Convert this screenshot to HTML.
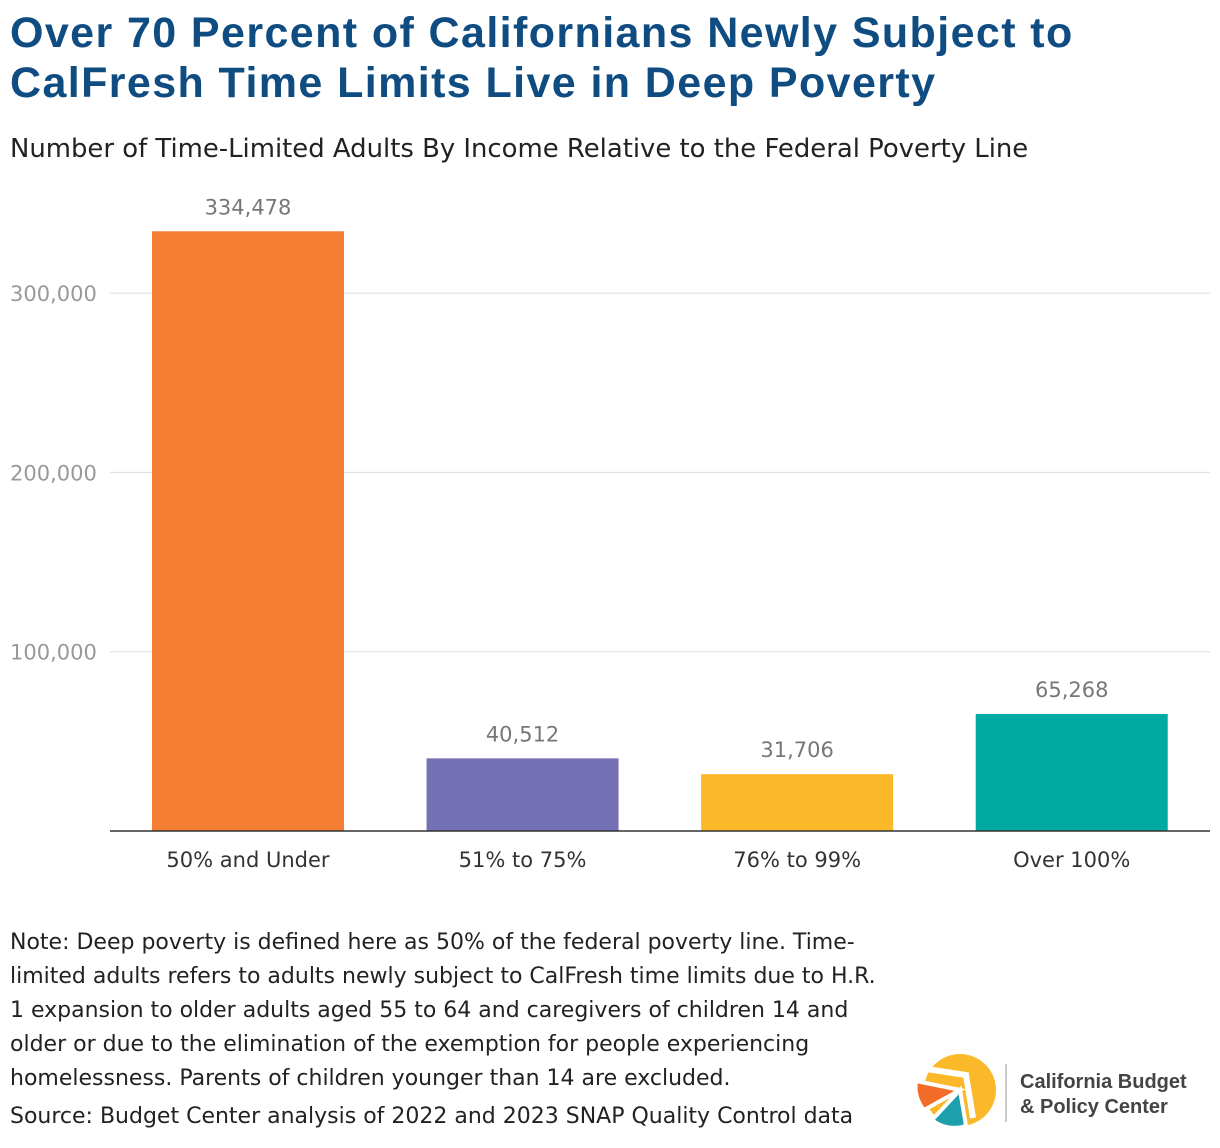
<!DOCTYPE html>
<html><head><meta charset="utf-8">
<style>
body{margin:0;width:1220px;height:1148px;background:#fff;font-family:"DejaVu Sans","Liberation Sans",sans-serif;overflow:hidden;position:relative}
.t{position:absolute;left:10px;top:8px;font-family:"Liberation Sans",sans-serif;font-weight:bold;font-size:43px;letter-spacing:1.4px;line-height:50px;color:#0f4c81;margin:0}
.s{position:absolute;left:10px;top:134px;font-size:25.9px;color:#222}
.n{position:absolute;left:10px;top:926px;width:878px;font-size:22px;line-height:34px;color:#222}
.src{position:absolute;left:10px;top:1104px;font-size:22px;color:#222}
</style></head><body>
<h1 class="t">Over 70 Percent of Californians Newly Subject to<br>CalFresh Time Limits Live in Deep Poverty</h1>
<div class="s">Number of Time-Limited Adults By Income Relative to the Federal Poverty Line</div>
<svg id="chart" width="1220" height="900" style="position:absolute;left:0;top:0"></svg>
<div class="n">Note: Deep poverty is defined here as 50% of the federal poverty line. Time-limited adults refers to adults newly subject to CalFresh time limits due to H.R. 1 expansion to older adults aged 55 to 64 and caregivers of children 14 and older or due to the elimination of the exemption for people experiencing homelessness. Parents of children younger than 14 are excluded.</div>
<div class="src">Source: Budget Center analysis of 2022 and 2023 SNAP Quality Control data</div>
<svg width="300" height="90" style="position:absolute;left:910px;top:1048px">
<circle cx="50" cy="42" r="36" fill="#fbb829"/>
<path d="M50 42 L6 33 A36 36 0 0 0 14 62 Z" fill="#f26b27" stroke="#fff" stroke-width="4"/>
<path d="M50 42 L22 72 A36 36 0 0 0 56 78 Z" fill="#1d9fae" stroke="#fff" stroke-width="4"/>
<path d="M10 20 L56 27 L63 70" fill="none" stroke="#fff" stroke-width="6"/>
<line x1="96" y1="16" x2="96" y2="74" stroke="#bbb" stroke-width="1.5"/>
<text x="110" y="40" font-family="Liberation Sans,sans-serif" font-size="20" font-weight="bold" fill="#444">California Budget</text>
<text x="110" y="65" font-family="Liberation Sans,sans-serif" font-size="20" font-weight="bold" fill="#444">&amp; Policy Center</text>
</svg>
<script>
const categories=["50% and Under","51% to 75%","76% to 99%","Over 100%"];
const values=[334478,40512,31706,65268];
const valueLabels=["334,478","40,512","31,706","65,268"];
const colors=["#f47f32","#7370b3","#fbb829","#00aaa2"];
const ticks=[100000,200000,300000];
const tickLabels=["100,000","200,000","300,000"];
const svg=document.getElementById('chart');const NS="http://www.w3.org/2000/svg";
const x0=110.7,x1=1209,y0=831,yPer=179.3/100000;
const bw=(x1-x0)/categories.length,barW=192;
const y=v=>y0-v*yPer;
function mk(t,a,txt){const e=document.createElementNS(NS,t);for(const k in a)e.setAttribute(k,a[k]);if(txt!=null)e.textContent=txt;svg.appendChild(e);return e;}
ticks.forEach((t,i)=>{
const g=mk('line',{x1:110,x2:1210,y1:y(t),y2:y(t),stroke:'#ddd','stroke-width':1});


const l=mk('text',{x:10,y:y(t)+8,'font-size':21,fill:'#999','font-family':'DejaVu Sans,sans-serif'},tickLabels[i]);


});
categories.forEach((c,i)=>{
const cx=x0+bw*(i+0.5);
const r=mk('rect',{x:cx-barW/2,y:y(values[i]),width:barW,height:values[i]*yPer,fill:colors[i]});


const v=mk('text',{x:cx,y:y(values[i])-17,'text-anchor':'middle','font-size':21,fill:'#777','font-family':'DejaVu Sans,sans-serif'},valueLabels[i]);


const cl=mk('text',{x:cx,y:867,'text-anchor':'middle','font-size':21,fill:'#333','font-family':'DejaVu Sans,sans-serif'},c);


});
const ax=mk('line',{x1:110,x2:1210,y1:y0,y2:y0,stroke:'#333','stroke-width':1.5});


</script>
</body></html>
